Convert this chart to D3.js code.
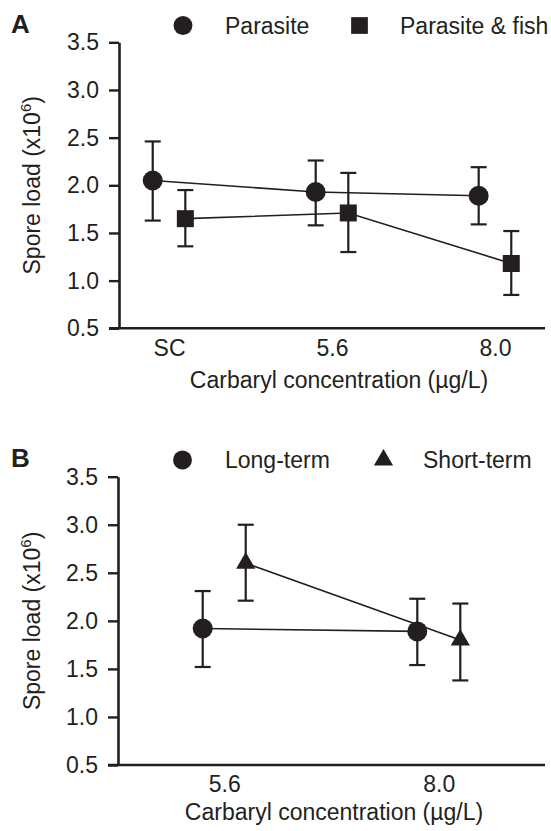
<!DOCTYPE html>
<html>
<head>
<meta charset="utf-8">
<script src="https://cdn.jsdelivr.net/npm/d3@7"></script>
<style>
  body { margin: 0; background: #fff; }
  text { font-family: "Liberation Sans", Arial, sans-serif; fill: #231f20; }
</style>
</head>
<body>
<script>
// panel A data
var catsA = ["SC", "5.6", "8.0"];
var parasite   = [2.05, 1.93, 1.89];
var parasiteLo = [1.63, 1.58, 1.59];
var parasiteHi = [2.46, 2.26, 2.19];
var parFish    = [1.65, 1.71, 1.18];
var parFishLo  = [1.36, 1.30, 0.85];
var parFishHi  = [1.95, 2.13, 1.52];

// panel B data
var catsB = ["5.6", "8.0"];
var longTerm    = [1.92, 1.89];
var longTermLo  = [1.52, 1.54];
var longTermHi  = [2.31, 2.23];
var shortTerm   = [2.60, 1.80];
var shortTermLo = [2.21, 1.38];
var shortTermHi = [3.00, 2.18];

var yTicks = [0.5, 1.0, 1.5, 2.0, 2.5, 3.0, 3.5];
var ink = "#231f20";

var svg = d3.select("body").append("svg")
    .attr("width", 551)
    .attr("height", 831);

function makeSeries(cats, vals, lo, hi) {
    return cats.map(function(c, i) { return {cat: c, v: vals[i], lo: lo[i], hi: hi[i]}; });
}

function drawPanel(cfg) {
    var g = svg.append("g");
    var x = d3.scalePoint().domain(cfg.cats).range([cfg.left, 545]).padding(cfg.pad);
    var y = d3.scaleLinear().domain([0.5, 3.5]).range([cfg.bottom, cfg.top]);

    // y axis
    var ya = g.append("g")
        .attr("transform", "translate(" + cfg.left + ",0)")
        .call(d3.axisLeft(y).tickValues(yTicks).tickFormat(d3.format(".1f"))
              .tickSizeInner(10).tickSizeOuter(0).tickPadding(10));
    ya.select(".domain").attr("stroke", ink).attr("stroke-width", 2.6);
    ya.selectAll(".tick line").attr("stroke", ink).attr("stroke-width", 2.4);
    ya.selectAll(".tick text").attr("font-size", 23).attr("fill", ink)
        .attr("font-family", "Liberation Sans, Arial, sans-serif");

    // x axis (line runs a bit left of the y axis, no ticks)
    var xa = g.append("g")
        .attr("transform", "translate(0," + cfg.bottom + ")")
        .call(d3.axisBottom(x).tickSize(0).tickPadding(11));
    xa.select(".domain").remove();
    xa.selectAll(".tick text").attr("font-size", 23).attr("fill", ink)
        .attr("font-family", "Liberation Sans, Arial, sans-serif");
    g.append("line")
        .attr("x1", cfg.left - 10).attr("x2", 545)
        .attr("y1", cfg.bottom).attr("y2", cfg.bottom)
        .attr("stroke", ink).attr("stroke-width", 2.6);

    // axis titles
    g.append("text")
        .attr("x", cfg.xTitleX).attr("y", cfg.xTitleY)
        .attr("text-anchor", "middle")
        .attr("font-size", 23)
        .text("Carbaryl concentration (\u00b5g/L)");

    var yt = g.append("text")
        .attr("transform", "translate(40," + ((cfg.top + cfg.bottom) / 2) + ") rotate(-90)")
        .attr("text-anchor", "middle")
        .attr("font-size", 23);
    yt.append("tspan").text("Spore load (x10");
    yt.append("tspan").attr("font-size", 15).attr("dy", -9).text("6");
    yt.append("tspan").attr("dy", 9).text(")");

    // panel letter
    g.append("text")
        .attr("x", 11).attr("y", cfg.letterY)
        .attr("font-size", 26).attr("font-weight", "bold")
        .text(cfg.letter);

    // series
    cfg.series.forEach(function(s) {
        var pts = makeSeries(cfg.cats, s.vals, s.lo, s.hi);
        var px = function(d) { return x(d.cat) + s.dodge; };

        g.append("path")
            .datum(pts)
            .attr("fill", "none")
            .attr("stroke", ink)
            .attr("stroke-width", 1.6)
            .attr("d", d3.line().x(px).y(function(d) { return y(d.v); }));

        var eb = g.selectAll(null).data(pts).enter().append("g")
            .attr("stroke", ink).attr("stroke-width", 2.2);
        eb.append("line")
            .attr("x1", px).attr("x2", px)
            .attr("y1", function(d) { return y(d.lo); })
            .attr("y2", function(d) { return y(d.hi); });
        eb.append("line")
            .attr("x1", function(d) { return px(d) - 8; })
            .attr("x2", function(d) { return px(d) + 8; })
            .attr("y1", function(d) { return y(d.hi); })
            .attr("y2", function(d) { return y(d.hi); });
        eb.append("line")
            .attr("x1", function(d) { return px(d) - 8; })
            .attr("x2", function(d) { return px(d) + 8; })
            .attr("y1", function(d) { return y(d.lo); })
            .attr("y2", function(d) { return y(d.lo); });

        g.selectAll(null).data(pts).enter().append("path")
            .attr("d", d3.symbol().type(s.shape).size(s.size))
            .attr("transform", function(d) { return "translate(" + px(d) + "," + y(d.v) + ")"; })
            .attr("fill", ink);

        // legend entry
        g.append("path")
            .attr("d", d3.symbol().type(s.shape).size(s.legSize))
            .attr("transform", "translate(" + s.legX + "," + cfg.legY + ")")
            .attr("fill", ink);
        g.append("text")
            .attr("x", s.legTextX).attr("y", cfg.legY + 8)
            .attr("font-size", 23)
            .text(s.name);
    });
}

drawPanel({
    letter: "A", letterY: 33,
    cats: catsA, left: 119, pad: 0.307,
    top: 42.3, bottom: 328.3,
    xTitleX: 339, xTitleY: 388,
    legY: 25.5,
    series: [
        {name: "Parasite", vals: parasite, lo: parasiteLo, hi: parasiteHi,
         shape: d3.symbolCircle, size: 314, legSize: 280, dodge: -16.3, legX: 183, legTextX: 225},
        {name: "Parasite & fish", vals: parFish, lo: parFishLo, hi: parFishHi,
         shape: d3.symbolSquare, size: 289, legSize: 280, dodge: 16.3, legX: 359.5, legTextX: 400}
    ]
});

drawPanel({
    letter: "B", letterY: 467,
    cats: catsB, left: 118, pad: 0.495,
    top: 476.7, bottom: 765,
    xTitleX: 334, xTitleY: 820,
    legY: 460,
    series: [
        {name: "Long-term", vals: longTerm, lo: longTermLo, hi: longTermHi,
         shape: d3.symbolCircle, size: 314, legSize: 280, dodge: -21.5, legX: 182.5, legTextX: 225},
        {name: "Short-term", vals: shortTerm, lo: shortTermLo, hi: shortTermHi,
         shape: d3.symbolTriangle, size: 160, legSize: 160, dodge: 21.5, legX: 383.5, legTextX: 423}
    ]
});
</script>
</body>
</html>
